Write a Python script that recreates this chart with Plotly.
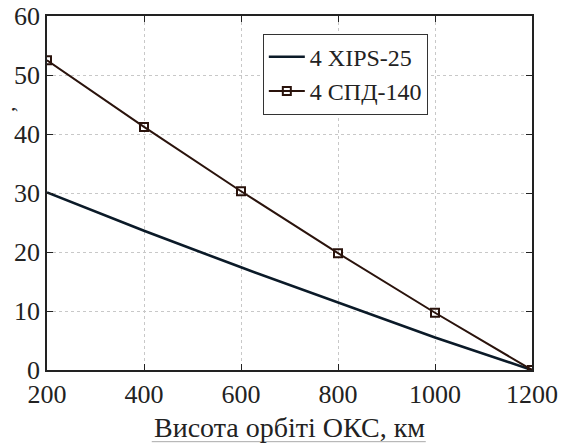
import plotly.graph_objects as go

altitude = [200, 400, 600, 800, 1000, 1200]
xips25 = [30.1, 23.6, 17.4, 11.4, 5.5, 0.0]
spd140 = [52.5, 41.2, 30.3, 19.8, 9.7, 0.0]
names = ["4 XIPS-25", "4 СПД-140"]
x_title = "Висота орбіті ОКС, км"
y_title = ","

FONT = "Times New Roman, Liberation Serif, serif"

fig = go.Figure()
fig.add_trace(go.Scatter(
    x=altitude, y=xips25, name=names[0], mode="lines",
    line=dict(color="#0b1a28", width=2.6),
))
fig.add_trace(go.Scatter(
    x=altitude, y=spd140, name=names[1], mode="lines+markers",
    line=dict(color="#2a130c", width=2),
    marker=dict(symbol="square-open", size=8, color="#2a130c",
                line=dict(width=2, color="#2a130c")),
))

axis_common = dict(
    showline=True, linecolor="#222", linewidth=1.5, mirror="ticks",
    ticks="inside", ticklen=6, tickcolor="#222", tickwidth=1.2,
    showgrid=True, gridcolor="#c8c8c8", griddash="dot", gridwidth=1,
    zeroline=False, automargin=False,
    tickfont=dict(family=FONT, size=26, color="#222"),
)

fig.update_layout(
    width=562, height=448,
    margin=dict(l=47, r=30, t=16, b=78, autoexpand=False),
    paper_bgcolor="white", plot_bgcolor="white",
    font=dict(family=FONT, color="#222"),
    xaxis=dict(range=[200, 1200], dtick=200, tick0=200, **axis_common),
    yaxis=dict(range=[0, 60], dtick=10, **axis_common),
    legend=dict(
        x=0.445, y=0.95, xanchor="left", yanchor="top",
        bgcolor="white", bordercolor="#333", borderwidth=1,
        font=dict(family=FONT, size=24, color="#222"),
        tracegroupgap=0, itemwidth=36,
    ),
    showlegend=True,
)

fig.add_annotation(
    text=x_title, xref="paper", yref="paper", x=0.5, y=-0.162,
    xanchor="center", yanchor="middle", showarrow=False,
    font=dict(family=FONT, size=28, color="#222"),
)
fig.add_annotation(
    text=y_title, xref="paper", yref="paper", x=-0.085, y=0.737,
    xanchor="center", yanchor="middle", showarrow=False, textangle=-90,
    font=dict(family=FONT, size=22, color="#222"),
)
fig.add_shape(
    type="line", xref="paper", yref="paper",
    x0=0.216, x1=0.781, y0=-0.2025, y1=-0.2025,
    line=dict(color="#aaa", width=1),
)

fig.write_html(
    "out.html",
    config={"displayModeBar": False},
    post_script="document.body.style.margin='0px';document.body.style.overflow='hidden';",
)
